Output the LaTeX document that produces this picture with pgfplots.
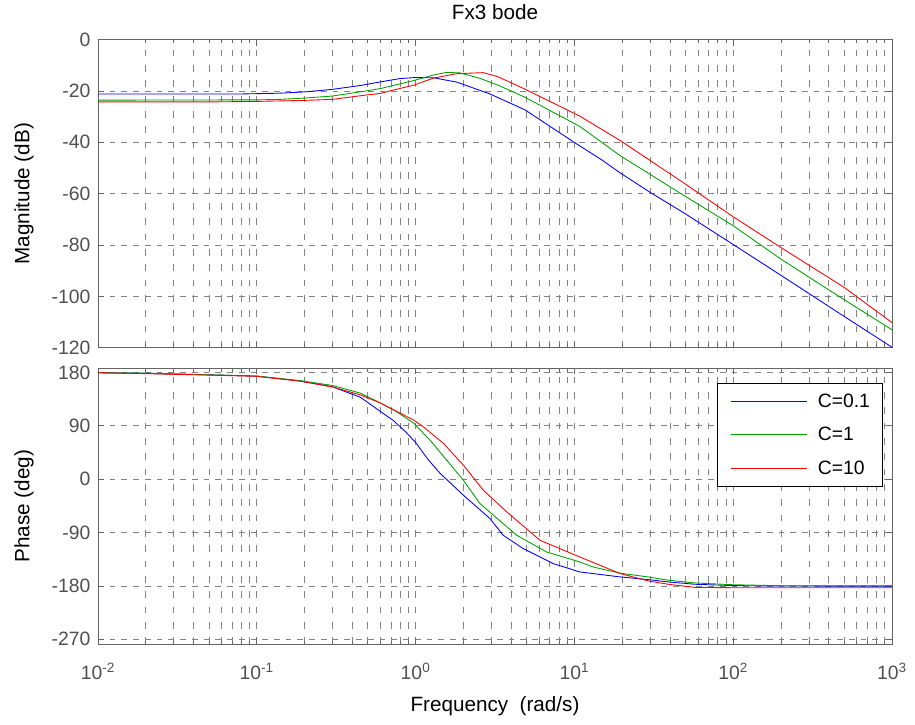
\documentclass[border=0pt]{standalone}
\usepackage{pgfplots}
\pgfplotsset{compat=1.18}
\usepackage{fontspec}
\setmainfont{Liberation Sans}
\definecolor{axgray}{RGB}{100,100,100}
\definecolor{tkgray}{RGB}{80,80,80}
\definecolor{grgray}{RGB}{130,130,130}
\definecolor{mblue}{RGB}{0,0,255}
\definecolor{mgreen}{RGB}{0,160,0}
\definecolor{mred}{RGB}{255,0,0}
\newcommand{\fs}{\fontsize{14.5}{16}\selectfont}
\newcommand{\fl}{\fontsize{15.5}{17}\selectfont}
\begin{document}
\begin{tikzpicture}
\path[use as bounding box] (-73.5pt,29.625pt) rectangle (612.75pt,-514.125pt);
\begin{axis}[
  xmode=log, xmin=0.01, xmax=1000,
  scale only axis, width=595.5pt, height=231.2pt,
  at={(0pt,0pt)}, anchor=north west,
  xtick={0.01,0.1,1,10,100,1000},
  axis line style={axgray, line width=0.6pt},
  tick style={axgray, line width=0.5pt},
  major tick length=4.5pt, minor tick length=2.5pt,
  tick align=inside,
  grid=both,
  major x grid style={grgray, line width=0.55pt, dash pattern=on 5pt off 6.5pt},
  minor x grid style={grgray, line width=0.55pt, dash pattern=on 5pt off 6.5pt},
  major y grid style={grgray, line width=0.55pt, dash pattern=on 4.3pt off 4.5pt},
  tick label style={font=\fs, text=tkgray},
  yticklabel style={/pgf/number format/assume math mode=true, xshift=-2.25pt},
  ylabel style={at={([xshift=-55.5pt]axis description cs:0,0.5)}, anchor=center, font=\fl, text=black},
  ymin=-120, ymax=0, ytick={-120,-100,-80,-60,-40,-20,0},
  xticklabels={},
  ylabel={Magnitude (dB)},
  title={Fx3 bode},
  title style={at={(axis description cs:0.5,1)}, anchor=base, yshift=9pt, font=\fl, text=black},
]
\addplot[mblue, line width=0.65pt, no markers] coordinates {
(0.01,-21.2) (0.08,-21.2) (0.14,-20.9) (0.2,-20.4) (0.3,-19.4) (0.45,-17.9)
(0.6,-16.5) (0.8,-15.2) (1.0,-14.8) (1.3,-14.9) (1.82,-16.6) (2.94,-21.2)
(4.89,-27.4) (9.84,-39.8) (14.9,-46.9) (19.4,-51.9) (30,-59.5) (49.8,-67.8)
(100,-79.8) (200,-91.8) (500,-107.8) (1000,-119.8)};
\addplot[mgreen, line width=0.65pt, no markers] coordinates {
(0.01,-23.6) (0.1,-23.5) (0.14,-23.3) (0.2,-22.8) (0.3,-22.0) (0.49,-20.0)
(0.6,-19.1) (0.69,-18.2) (0.97,-16.0) (1.3,-13.8) (1.57,-12.8) (1.9,-13.0)
(2.54,-15.1) (3.4,-18.1) (4.89,-22.5) (10.8,-33.8) (19.4,-45.2) (49.8,-61.0)
(100,-72.5) (200,-85.5) (500,-101.3) (1000,-113.0)};
\addplot[mred, line width=0.65pt, no markers] coordinates {
(0.01,-24.3) (0.05,-24.3) (0.1,-24.1) (0.2,-23.7) (0.3,-23.3) (0.49,-21.6)
(0.6,-21.0) (0.69,-20.0) (0.97,-17.8) (1.3,-15.0) (1.82,-13.3) (2.67,-12.9)
(3.3,-14.5) (4.76,-19.0) (10.8,-29.8) (19.4,-39.3) (49.8,-56.2) (100,-69.0)
(200,-81.0) (500,-96.5) (1000,-110.2)};
\end{axis}
\begin{axis}[
  xmode=log, xmin=0.01, xmax=1000,
  scale only axis, width=595.5pt, height=206.8pt,
  at={(0pt,-246.6pt)}, anchor=north west,
  xtick={0.01,0.1,1,10,100,1000},
  axis line style={axgray, line width=0.6pt},
  tick style={axgray, line width=0.5pt},
  major tick length=4.5pt, minor tick length=2.5pt,
  tick align=inside,
  grid=both,
  major x grid style={grgray, line width=0.55pt, dash pattern=on 5pt off 6.5pt},
  minor x grid style={grgray, line width=0.55pt, dash pattern=on 5pt off 6.5pt},
  major y grid style={grgray, line width=0.55pt, dash pattern=on 4.3pt off 4.5pt},
  tick label style={font=\fs, text=tkgray},
  yticklabel style={/pgf/number format/assume math mode=true, xshift=-2.25pt},
  ylabel style={at={([xshift=-55.5pt]axis description cs:0,0.5)}, anchor=center, font=\fl, text=black},
  ymin=-278, ymax=187, ytick={-270,-180,-90,0,90,180},
  xticklabels={10\textsuperscript{-2},10\textsuperscript{-1},10\textsuperscript{0},10\textsuperscript{1},10\textsuperscript{2},10\textsuperscript{3}},
  xticklabel style={anchor=base, yshift=-26.5pt},
  ylabel={Phase (deg)},
  xlabel={Frequency\ \ (rad/s)},
  xlabel style={at={(axis description cs:0.5,0)}, anchor=base, yshift=-50.8pt, font=\fl, text=black},
  legend style={at={(1,1)}, anchor=north east, xshift=-7.3pt, yshift=-11.25pt,
    fill=white, font=\fs, row sep=9.5pt, inner xsep=7pt, inner ysep=5.5pt},
  legend cell align=left,
  legend image code/.code={\path (0pt,0pt); \draw[#1, line width=0.65pt] (3pt,0pt) -- (60pt,0pt); \path (66pt,0pt);},
]
\addplot[mblue, line width=0.65pt, no markers] coordinates {
(0.01,179.5) (0.02,178.5) (0.06,175.5) (0.1,173.8) (0.19,165.5) (0.3,155.8)
(0.45,138) (0.597,114.7) (0.724,99) (0.85,82) (1.0,62) (1.2,33) (1.43,9.6)
(2.0,-27) (2.94,-66.4) (3.56,-94.5) (4.76,-117) (7.36,-142.3) (10.8,-156.4)
(19.4,-164.8) (29.2,-169.3) (39.1,-173.3) (57.5,-177.2) (100,-179.4) (200,-180.2) (1000,-180.3)};
\addlegendentry{C=0.1}
\addplot[mgreen, line width=0.65pt, no markers] coordinates {
(0.01,179.5) (0.02,178.8) (0.06,175.5) (0.1,173.8) (0.19,166) (0.3,158)
(0.45,145) (0.597,128.8) (0.76,113.6) (0.968,95) (1.233,65.8) (2.0,-1.7)
(2.54,-41) (4.33,-94.5) (6.68,-122.7) (10.8,-139.5) (13.1,-148) (19.4,-158.5)
(29.2,-164.9) (39.1,-170.4) (57.5,-175) (100,-178) (200,-179.6) (1000,-179.8)};
\addlegendentry{C=1}
\addplot[mred, line width=0.65pt, no markers] coordinates {
(0.01,179.5) (0.02,178) (0.06,175) (0.1,173.5) (0.19,165) (0.3,155.5)
(0.45,142) (0.597,128.8) (0.968,100) (1.12,88.3) (1.5,60.2) (2.0,23.6)
(2.67,-18.6) (3.75,-55.1) (6.07,-103) (10.8,-131.1) (19.4,-159.1) (29.2,-171.6)
(39.1,-177.2) (57.5,-182.5) (100,-183) (1000,-183)};
\addlegendentry{C=10}
\end{axis}
\end{tikzpicture}
\end{document}
